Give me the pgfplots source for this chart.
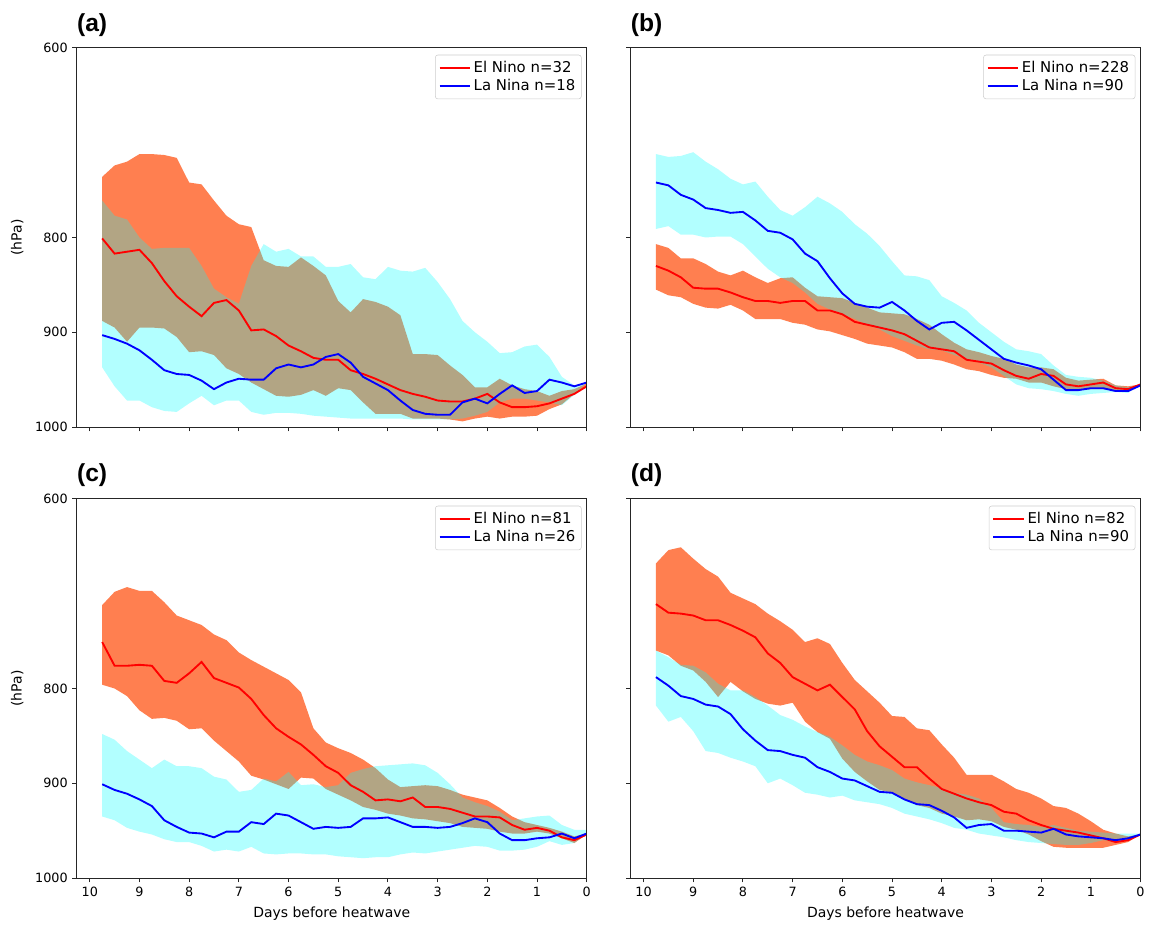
\documentclass[border=0pt]{standalone}
\usepackage{fontspec}
\setmainfont{DejaVu Sans}
\newfontfamily\panelfont{Liberation Sans}
\usepackage{pgfplots}
\usepackage{pgfplotstable}
\pgfplotsset{compat=1.18}
\usepgfplotslibrary{fillbetween}

\definecolor{elfill}{RGB}{255,127,80}
\definecolor{lafill}{RGB}{0,255,255}
\definecolor{elline}{RGB}{255,0,0}
\definecolor{laline}{RGB}{0,0,255}

% columns: day, El Nino mean, La Nina mean, El Nino band (top/bottom), La Nina band (top/bottom)
\pgfplotstableread{
d red blue ou ol cu cl
9.75 801 903 736 888 761 937
9.5 817 907 724 895 777 957
9.25 815 912 720 910 781 972
9.0 813 919 712 895 800 972
8.75 827 929 712 895 812 979
8.5 846 940 713 896 811 983
8.25 862 944 716 905 811 984
8.0 873 945 742 921 811 975
7.75 883 951 744 920 830 967
7.5 869 960 761 924 854 977
7.25 866 953 777 938 863 972
7.0 877 949 786 944 870 972
6.75 898 950 789 953 830 984
6.5 897 950 824 960 807 987
6.25 904 938 830 967 815 985
6.0 914 934 831 968 812 985
5.75 920 937 821 966 820 986
5.5 927 934 830 961 820 988
5.25 929 926 840 967 831 989
5.0 929 923 867 959 831 990
4.75 940 932 879 961 828 991
4.5 944 947 865 974 842 991
4.25 949 954 868 986 844 991
4.0 955 961 873 986 831 991
3.75 961 972 882 986 835 991
3.5 965 982 923 991 836 992
3.25 968 986 923 991 832 992
3.0 972 987 924 991 847 992
2.75 973 987 935 992 865 992
2.5 973 974 945 994 888 991
2.25 970 970 958 991 900 988
2.0 965 975 958 989 910 984
1.75 974 965 949 991 922 974
1.5 979 956 956 989 921 970
1.25 979 964 960 989 915 970
1.0 978 962 962 988 913 972
0.75 975 950 967 981 926 974
0.5 970 953 962 976 947 977
0.25 965 957 960 965 956 966
0.0 957 953 954 956 953 953
}\tabA

\pgfplotstableread{
d red blue ou ol cu cl
9.75 830 742 807 855 712 791
9.5 835 745 811 861 715 788
9.25 842 755 822 863 714 797
9.0 853 760 822 870 710 797
8.75 854 769 828 874 720 800
8.5 854 771 836 875 728 799
8.25 858 774 840 871 738 799
8.0 863 773 835 877 744 807
7.75 867 782 842 886 741 820
7.5 867 793 848 886 757 833
7.25 869 795 843 886 771 842
7.0 867 802 842 890 777 848
6.75 867 817 853 892 768 858
6.5 877 825 862 897 757 870
6.25 877 843 863 899 764 876
6.0 881 859 864 903 773 881
5.75 889 870 869 907 786 886
5.5 892 873 874 912 796 892
5.25 895 874 879 914 809 897
5.0 898 868 880 916 825 904
4.75 902 877 881 921 840 909
4.5 909 888 886 928 841 914
4.25 916 897 892 928 845 918
4.0 918 890 902 930 862 919
3.75 920 889 911 934 869 924
3.5 929 898 918 939 877 928
3.25 931 908 921 941 890 932
3.0 933 918 925 945 900 937
2.75 940 928 928 948 910 946
2.5 946 932 934 949 918 955
2.25 949 935 937 953 920 959
2.0 944 939 937 953 923 960
1.75 946 950 939 957 935 962
1.5 955 961 948 960 945 965
1.25 957 961 951 961 947 967
1.0 955 959 950 960 948 965
0.75 953 959 949 960 951 964
0.5 959 962 956 962 956 963
0.25 960 962 957 963 958 964
0.0 955 956 955 955 955 955
}\tabB

\pgfplotstableread{
d red blue ou ol cu cl
9.75 751 901 712 796 848 935
9.5 776 907 698 800 854 939
9.25 776 911 693 808 866 947
9.0 775 917 697 823 875 951
8.75 776 924 697 832 884 954
8.5 792 939 709 831 875 959
8.25 794 946 723 834 882 962
8.0 784 952 728 843 882 962
7.75 772 953 733 842 884 966
7.5 789 957 743 855 893 972
7.25 794 951 749 866 896 970
7.0 799 951 762 877 909 972
6.75 811 941 770 892 907 967
6.5 828 943 777 896 895 974
6.25 842 932 784 901 898 975
6.0 851 934 791 906 888 974
5.75 859 941 804 894 902 974
5.5 870 948 842 895 901 975
5.25 882 946 857 906 904 975
5.0 889 947 863 912 902 977
4.75 902 946 868 918 889 978
4.5 909 937 875 925 885 979
4.25 918 937 884 928 882 978
4.0 917 936 896 932 881 978
3.75 919 941 904 934 880 975
3.5 915 946 903 937 879 973
3.25 925 946 902 938 881 974
3.0 925 947 903 940 889 972
2.75 927 946 907 942 901 970
2.5 931 942 912 946 915 968
2.25 935 937 915 947 920 966
2.0 935 941 918 948 924 967
1.75 936 953 926 951 930 971
1.5 944 960 935 953 939 971
1.25 949 960 941 953 937 970
1.0 947 958 944 951 935 967
0.75 950 957 947 953 934 961
0.5 957 953 951 958 944 965
0.25 960 958 956 963 949 963
0.0 954 953 953 954 949 953
}\tabC

\pgfplotstableread{
d red blue ou ol cu cl
9.75 711 788 668 760 760 818
9.5 720 797 654 765 767 835
9.25 721 808 651 776 775 830
9.0 723 811 663 781 776 845
8.75 728 817 674 793 783 866
8.5 728 819 682 809 795 868
8.25 733 827 699 793 802 873
8.0 739 843 705 803 802 877
7.75 746 855 711 811 809 882
7.5 763 865 721 816 818 900
7.25 773 866 729 818 828 895
7.0 788 870 738 815 833 902
6.75 795 873 751 835 840 910
6.5 802 883 747 846 846 912
6.25 796 888 753 853 851 915
6.0 809 895 773 874 860 913
5.75 822 897 791 888 870 918
5.5 845 903 803 898 877 920
5.25 861 909 815 907 881 922
5.0 872 910 829 910 886 926
4.75 883 917 830 916 895 932
4.5 883 922 842 923 899 935
4.25 895 923 844 926 902 938
4.0 906 929 859 932 905 942
3.75 911 936 873 935 910 947
3.5 916 947 891 939 912 949
3.25 920 944 891 938 916 953
3.0 923 943 891 940 926 955
2.75 930 950 898 946 941 957
2.5 932 950 906 949 943 960
2.25 939 951 910 954 944 962
2.0 944 952 916 961 946 963
1.75 948 948 924 967 944 964
1.5 950 954 926 968 947 965
1.25 952 956 932 968 950 965
1.0 955 957 940 968 951 963
0.75 958 958 949 968 952 960
0.5 962 960 953 965 953 962
0.25 960 958 956 962 953 959
0.0 954 954 954 954 953 953
}\tabD

\pgfplotsset{
  legend image code/.code={\draw[#1] (0pt,0pt) -- (23pt,0pt);},
  enso/.style={
    scale only axis, width=383.25pt, height=285pt,
    anchor=south west,
    x dir=reverse, y dir=reverse,
    xmin=0, xmax=10.26, ymin=600, ymax=1000,
    xtick={0,1,2,3,4,5,6,7,8,9,10},
    ytick={600,800,900,1000},
    tick pos=left, tick align=outside, major tick length=3.3pt,
    axis line style={black!85, line width=0.7pt},
    tick style={black!85, line width=0.7pt},
    tick label style={font=\fontsize{9.6}{11}\selectfont},
    label style={font=\fontsize{10.5}{12}\selectfont},
    ylabel style={at={(axis description cs:-0.117,0.5)}, anchor=center},
    xlabel style={at={(axis description cs:0.5,0)}, yshift=-27pt, anchor=center},
    legend style={at={(axis description cs:0.99,0.982)}, anchor=north east,
      draw=black!20, rounded corners=2pt, fill=white,
      font=\fontsize{11.2}{13}\selectfont,
      inner xsep=2.5pt, inner ysep=2.5pt, row sep=0pt},
    legend cell align=left,
    axis on top,
  },
}

\newcommand{\bands}[1]{%
  \addplot[draw=none, name path=ou, forget plot] table[x=d,y=ou]{#1};
  \addplot[draw=none, name path=ol, forget plot] table[x=d,y=ol]{#1};
  \addplot[draw=none, name path=cu, forget plot] table[x=d,y=cu]{#1};
  \addplot[draw=none, name path=cl, forget plot] table[x=d,y=cl]{#1};
  \addplot[elfill, draw=none, forget plot] fill between[of=ou and ol];
  \addplot[lafill, fill opacity=0.3, draw=none, forget plot] fill between[of=cu and cl];
  \addplot[elline, line width=1.4pt] table[x=d,y=red]{#1};
  \addplot[laline, line width=1.4pt] table[x=d,y=blue]{#1};
}

\begin{document}
\begin{tikzpicture}
\path (0pt,0pt) rectangle (861.75pt,-693.75pt);

\begin{axis}[enso, at={(57.75pt,-321pt)},
  xticklabel=\empty, yticklabels={600,800,900,1000}, ylabel={(hPa)}]
\bands{\tabA}
\legend{El Nino n=32, La Nina n=18}
\end{axis}

\begin{axis}[enso, at={(474pt,-321pt)},
  xticklabel=\empty, yticklabel=\empty]
\bands{\tabB}
\legend{El Nino n=228, La Nina n=90}
\end{axis}

\begin{axis}[enso, at={(57.75pt,-660pt)},
  xticklabels={0,1,2,3,4,5,6,7,8,9,10}, yticklabels={600,800,900,1000},
  ylabel={(hPa)}, xlabel={Days before heatwave}]
\bands{\tabC}
\legend{El Nino n=81, La Nina n=26}
\end{axis}

\begin{axis}[enso, at={(474pt,-660pt)},
  xticklabels={0,1,2,3,4,5,6,7,8,9,10}, yticklabel=\empty,
  xlabel={Days before heatwave}]
\bands{\tabD}
\legend{El Nino n=82, La Nina n=90}
\end{axis}

\begin{scope}[every node/.style={anchor=base west, inner sep=0pt,
    font=\panelfont\bfseries\fontsize{18.5}{20}\selectfont}]
\node at (57.75pt,-24pt) {(a)};
\node at (474pt,-24pt) {(b)};
\node at (57.75pt,-362pt) {(c)};
\node at (474pt,-362pt) {(d)};
\end{scope}
\end{tikzpicture}
\end{document}
